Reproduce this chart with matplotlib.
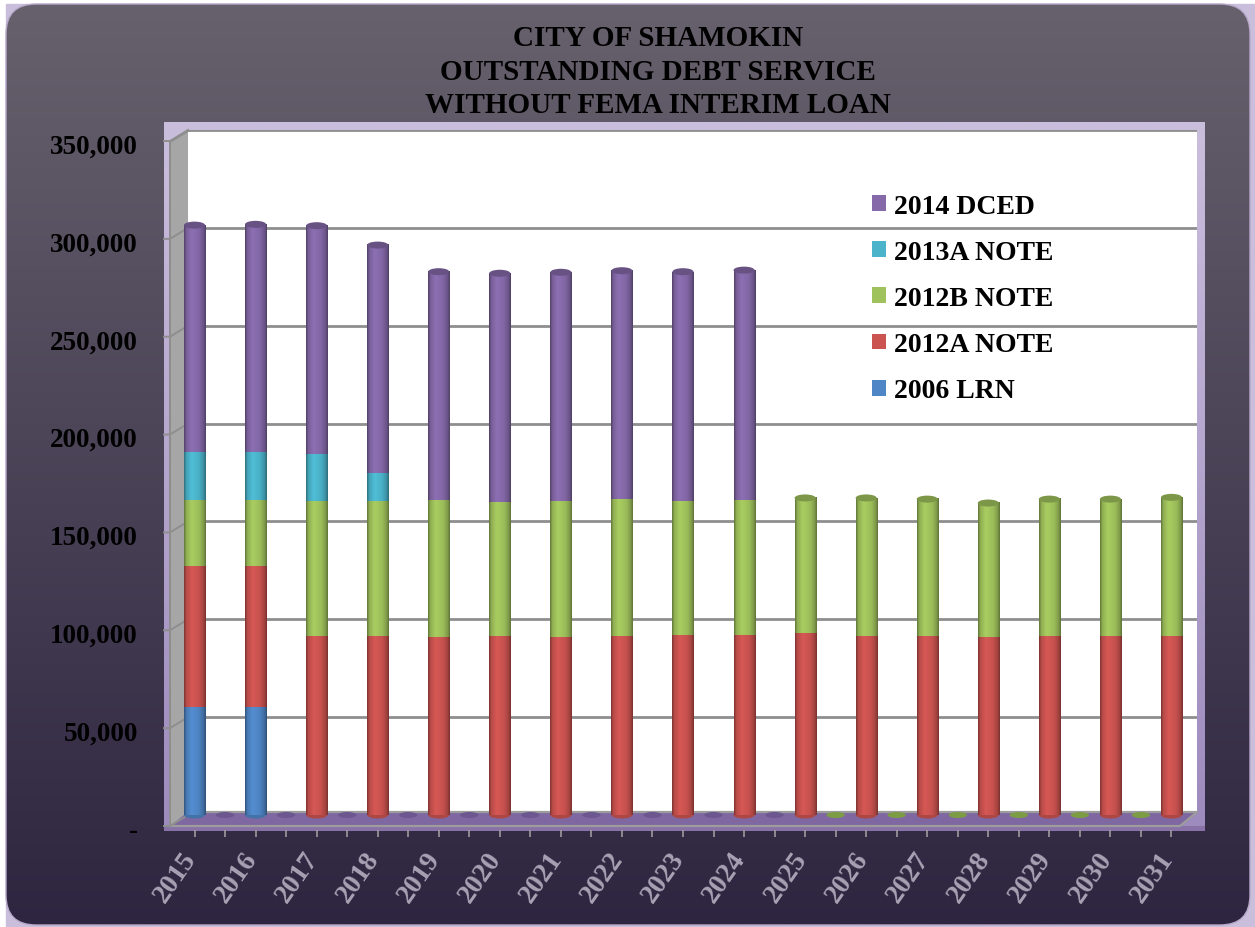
import matplotlib
matplotlib.use("Agg")

import matplotlib.pyplot as plt
import matplotlib.transforms as mtransforms
import numpy as np
from matplotlib.colors import to_rgb
from matplotlib.patches import FancyBboxPatch, Polygon, Rectangle, Ellipse, Patch

years = ["2015", "2016", "2017", "2018", "2019", "2020", "2021", "2022", "2023",
         "2024", "2025", "2026", "2027", "2028", "2029", "2030", "2031"]
lrn_2006 = [55200, 55200, 0, 0, 0, 0, 0, 0, 0, 0, 0, 0, 0, 0, 0, 0, 0]
note_2012a = [72000, 72200, 91500, 91500, 90900, 91500, 90900, 91600, 92000,
              92000, 93000, 91600, 91300, 90800, 91300, 91600, 91600]
note_2012b = [33700, 33500, 68900, 68900, 70000, 68400, 69500, 69800, 68600,
              68900, 69000, 70400, 70100, 68600, 70100, 69800, 70700]
note_2013a = [24600, 24700, 24000, 14300, 0, 0, 0, 0, 0, 0, 0, 0, 0, 0, 0, 0, 0]
dced_2014 = [115900, 116200, 116700, 116500, 116700, 116900, 116900, 116700,
             117000, 117500, 0, 0, 0, 0, 0, 0, 0]

series_names = ["2006 LRN", "2012A NOTE", "2012B NOTE", "2013A NOTE", "2014 DCED"]
series_values = [lrn_2006, note_2012a, note_2012b, note_2013a, dced_2014]
series_colors = ["#4f86c6", "#cb5350", "#a0c25c", "#4bb4cb", "#8569a9"]

W, H = 1255, 928
SERIF = "Liberation Serif"

fig = plt.figure(figsize=(W / 100, H / 100), dpi=100)
fig.patch.set_facecolor("white")

# background / chart frame drawn in pixel coordinates
bg = fig.add_axes([0, 0, 1, 1])
bg.set_xlim(0, W)
bg.set_ylim(H, 0)
bg.axis("off")

bg.add_patch(Rectangle((6, 5), W - 6, H - 5, color="#c9bedb", zorder=0))
box = FancyBboxPatch((6, 5), 1244, 921, boxstyle="round,pad=0,rounding_size=30",
                     facecolor="none", edgecolor="#b8aacb", lw=1.0, zorder=2)
bg.add_patch(box)
g = np.linspace(0, 1, 256)[:, None, None]
top_c = np.array(to_rgb("#67616d"))
bot_c = np.array(to_rgb("#2e2540"))
grad = top_c * (1 - g) + bot_c * g
im = bg.imshow(grad, extent=(6, 1250, 926, 5), aspect="auto",
               interpolation="bilinear", zorder=1)
im.set_clip_path(box)

# plot area frame, walls and floor
g2 = np.linspace(0, 1, 64)[:, None, None]
frame_grad = np.array(to_rgb("#cabedd")) * (1 - g2) + np.array(to_rgb("#9d8bbd")) * g2
frame = Rectangle((164, 123), 1041, 709, facecolor="none", edgecolor="none", zorder=3)
bg.add_patch(frame)
fim = bg.imshow(frame_grad, extent=(164, 1205, 832, 123), aspect="auto",
                interpolation="bilinear", zorder=3)
fim.set_clip_path(frame)
bg.add_patch(Rectangle((188, 132), 1009, 681, facecolor="white", zorder=4))
bg.add_patch(Polygon([(170, 143), (188, 132), (188, 813), (170, 827)],
                     closed=True, facecolor="#a6a6a6", edgecolor="none", zorder=4))
bg.add_patch(Polygon([(170, 827), (188, 813), (1197, 813), (1180, 827)],
                     closed=True, facecolor="#7f68a1", edgecolor="none", zorder=4))
bg.add_patch(Rectangle((164, 827), 1041, 5, facecolor="#8872a8", zorder=4))
bg.plot([188, 1197, 1180, 170], [813, 813, 827, 827], color="#9c9c9c", lw=1.6, zorder=5)
bg.plot([170, 170, 188], [827, 143, 132], color="#8e8e8e", lw=1.4, zorder=5)

# main axes, placed over the white back wall
ax = fig.add_axes([188 / W, 1 - 816 / H, 1009 / W, 685 / H])
ax.set_zorder(1)
ax.patch.set_visible(False)
ax.set_autoscale_on(False)
x0, step = 194.5, 61.06
xlim = ((188 - x0) / step, (1197 - x0) / step)

px_val = 350000 / 685
bar_w = 0.345
t = np.linspace(0, 1, 48)
shade = np.interp(t, [0, 0.1, 0.35, 0.7, 0.9, 1], [0.62, 0.9, 1.06, 0.97, 0.8, 0.6])


def cylinder(color):
    c = np.array(to_rgb(color))
    return np.clip(c[None, None, :] * shade[None, :, None], 0, 1)


x = np.arange(len(years))
bottom = np.zeros(len(years))
tops = [None] * len(years)
first = [None] * len(years)
for vals, col in zip(series_values, series_colors):
    for i, v in enumerate(vals):
        if v <= 0:
            continue
        ax.imshow(cylinder(col), extent=(i - bar_w / 2, i + bar_w / 2, bottom[i], bottom[i] + v),
                  aspect="auto", interpolation="bilinear", zorder=3, clip_on=False)
        if first[i] is None:
            first[i] = col
        tops[i] = col
    bottom += np.array(vals)

cap_h = 7 * px_val
for i in range(len(years)):
    cb = np.array(to_rgb(first[i])) * 0.85
    ax.add_patch(Ellipse((i, 0), bar_w, cap_h, facecolor=cb, edgecolor="none",
                         zorder=2.9, clip_on=False))
    ct = np.array(to_rgb(tops[i])) * 0.78
    ax.add_patch(Ellipse((i, bottom[i]), bar_w, cap_h, facecolor=ct, edgecolor="none",
                         zorder=3.1, clip_on=False))

# small floor discs between the columns
for i in range(len(years) - 1):
    fc = "#6c5791" if dced_2014[i] > 0 else "#7d9d45"
    ax.add_patch(Ellipse((i + 0.5, 0), 0.3, 6 * px_val, facecolor=fc, edgecolor="none",
                         zorder=2.5, clip_on=False))

# gridlines
ax.set_yticks(np.arange(0, 350001, 50000))
ax.yaxis.grid(True, color="#8e8e8e", lw=2)
ax.set_axisbelow(True)
ax.get_ygridlines()[0].set_visible(False)
for s in ax.spines.values():
    s.set_visible(False)

ylabels = ["-" if v == 0 else f"{int(v):,}" for v in ax.get_yticks()]
ax.set_yticklabels(ylabels, fontfamily=SERIF, fontweight="bold", fontsize=19.5, color="black")
ax.tick_params(axis="y", length=0, pad=36)
down = mtransforms.ScaledTranslation(0, -13 / 100, fig.dpi_scale_trans)
for lab in ax.get_yticklabels():
    lab.set_transform(lab.get_transform() + down)

# x axis labels and floor ticks
ax.spines["bottom"].set_position(("outward", 11))
ax.set_xticks(x)
ax.set_xticks(np.arange(0, len(years) - 0.9, 0.5), minor=True)
ax.set_xticklabels(years, rotation=55, ha="right", va="top", fontfamily=SERIF,
                   fontweight="bold", fontsize=20, color="#a9a1b3")
ax.tick_params(axis="x", which="both", length=5, width=1.2, color="#9c9c9c", pad=7)
shift = mtransforms.ScaledTranslation(7 / 100, 0, fig.dpi_scale_trans)
for lab in ax.get_xticklabels():
    lab.set_transform(lab.get_transform() + shift)

ax.set_xlim(*xlim)
ax.set_ylim(0, 350000)

# left wall: axis ticks and gridline continuation
fig.canvas.draw()
inv = bg.transData.inverted()
for v in ax.get_yticks():
    _, py = inv.transform(ax.transData.transform((0, v)))
    bg.plot([188, 170, 164], [py, py + 11, py + 11], color="#8e8e8e", lw=1.4, zorder=5)

# legend
handles = [Patch(facecolor=c, edgecolor="none") for c in series_colors[::-1]]
ax.legend(handles, series_names[::-1], loc="upper left",
          bbox_to_anchor=(872 / W, 1 - 195 / H), bbox_transform=fig.transFigure,
          frameon=False, prop=dict(family=SERIF, weight="bold", size=20),
          handlelength=0.5, handleheight=0.5, handletextpad=0.3,
          labelspacing=0.76, borderpad=0, borderaxespad=0)

fig.text(658 / W, 1 - 72 / H,
         "CITY OF SHAMOKIN\nOUTSTANDING DEBT SERVICE\nWITHOUT FEMA INTERIM LOAN",
         ha="center", va="center", multialignment="center", linespacing=1.3,
         fontfamily=SERIF, fontweight="bold", fontsize=21, color="black")

plt.savefig("out.png", dpi=100)
plt.close()
